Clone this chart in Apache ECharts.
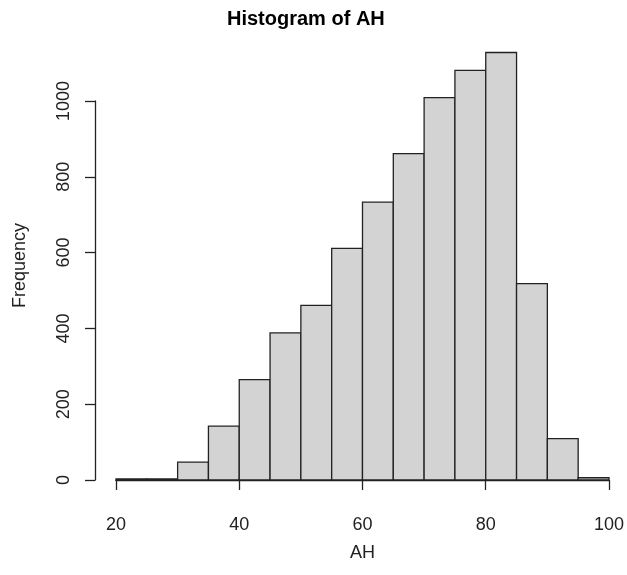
<!DOCTYPE html>
<html>
<head>
<meta charset="utf-8">
<script src="https://cdn.jsdelivr.net/npm/echarts@6/dist/echarts.min.js"></script>
<style>
  html, body { margin: 0; padding: 0; background: #fff; }
  #chartArea { width: 627px; height: 575px; }
</style>
</head>
<body>
<div id="chartArea"></div>
<script>
// histogram bins of AH (width 5) and their counts
let binEdges = [20, 25, 30, 35, 40, 45, 50, 55, 60, 65, 70, 75, 80, 85, 90, 95, 100];
let counts = [3, 3, 47, 142, 265, 388, 461, 611, 733, 861, 1009, 1081, 1128, 518, 109, 6];
let xTicks = [20, 40, 60, 80, 100];
let yTicks = [0, 200, 400, 600, 800, 1000];

let fontName = '"Liberation Sans", Arial, sans-serif';
let lineColor = '#222';

let dom = document.getElementById('chartArea');
let myChart = echarts.init(dom);

let histData = [];
for (let i = 0; i < counts.length; i++) {
    histData.push([binEdges[i], binEdges[i + 1], counts[i]]);
}

function renderBin(params, api) {
    let lo = api.coord([api.value(0), api.value(2)]);
    let hi = api.coord([api.value(1), 0]);
    return {
        type: 'rect',
        shape: {
            x: lo[0],
            y: lo[1],
            width: hi[0] - lo[0],
            height: hi[1] - lo[1]
        },
        style: {
            fill: '#d3d3d3',
            stroke: lineColor,
            lineWidth: 1.3
        }
    };
}

let option = {
    animation: false,
    backgroundColor: '#fff',
    title: {
        text: 'Histogram of AH',
        left: 227,
        top: 9,
        padding: 0,
        textStyle: {
            fontFamily: fontName,
            fontSize: 20,
            fontWeight: 'bold',
            color: '#000'
        }
    },
    grid: {
        left: 116,
        right: 18,
        top: 101,
        bottom: 95
    },
    xAxis: {
        type: 'value',
        min: xTicks[0],
        max: xTicks[xTicks.length - 1],
        interval: 20,
        offset: 19,
        name: 'AH',
        nameLocation: 'middle',
        nameGap: 45,
        nameTextStyle: {fontFamily: fontName, fontSize: 18, color: '#222'},
        axisLine: {show: true, lineStyle: {color: lineColor, width: 1.3}},
        axisTick: {show: true, length: 10, lineStyle: {color: lineColor, width: 1.3}},
        axisLabel: {
            margin: 17,
            fontFamily: fontName,
            fontSize: 18,
            color: '#222',
            showMinLabel: true,
            showMaxLabel: true
        },
        splitLine: {show: false}
    },
    yAxis: {
        type: 'value',
        min: yTicks[0],
        max: yTicks[yTicks.length - 1],
        interval: 200,
        offset: 21,
        name: 'Frequency',
        nameLocation: 'middle',
        nameGap: 66,
        nameRotate: 90,
        nameTextStyle: {fontFamily: fontName, fontSize: 18, color: '#222', padding: [0, 0, 0, 50]},
        axisLine: {show: true, lineStyle: {color: lineColor, width: 1.3}},
        axisTick: {show: true, length: 10, lineStyle: {color: lineColor, width: 1.3}},
        axisLabel: {
            rotate: 90,
            margin: 22,
            fontFamily: fontName,
            fontSize: 18,
            color: '#222',
            formatter: function (v) { return String(v); }
        },
        splitLine: {show: false}
    },
    series: [
        {
            type: 'custom',
            renderItem: renderBin,
            clip: false,
            encode: {x: [0, 1], y: 2},
            data: histData
        }
    ]
};

myChart.setOption(option);
</script>
</body>
</html>
